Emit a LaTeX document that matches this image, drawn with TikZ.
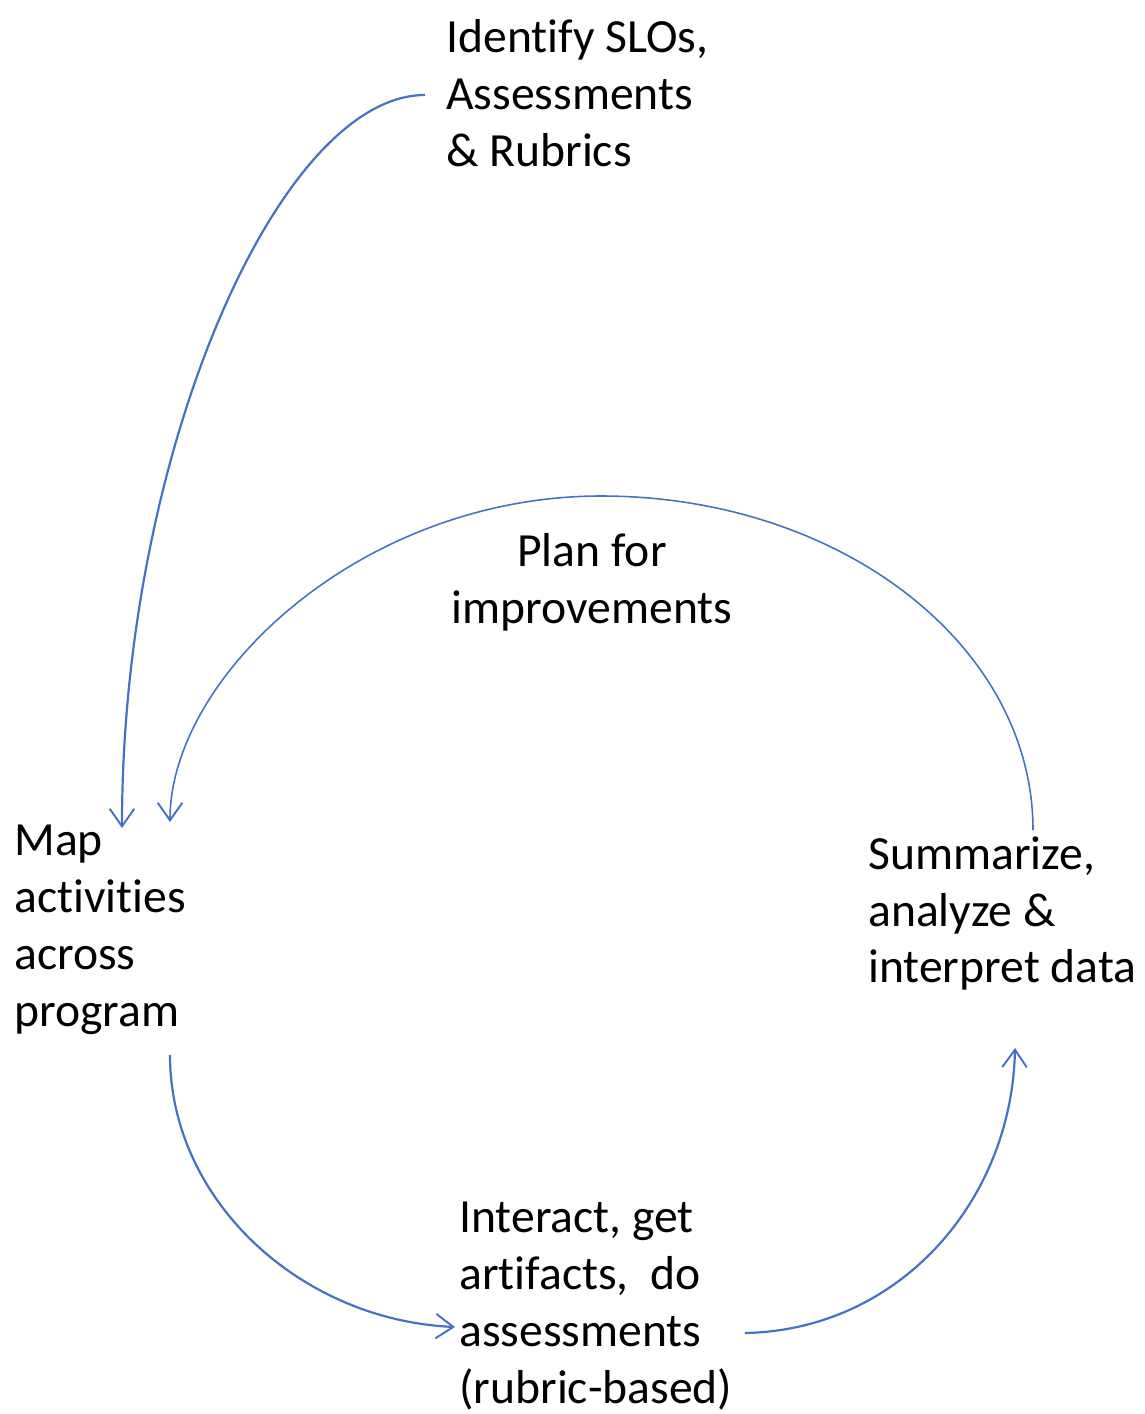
\documentclass[tikz,border=0pt]{standalone}
\usepackage{fontspec}
\setmainfont{Carlito}[RawFeature={-liga;-clig;-calt}]
\usetikzlibrary{arrows.meta}

\definecolor{linkblue}{RGB}{68,114,196}

\tikzset{
    steptext/.style={inner sep=0pt, font=\fontsize{27.1}{32.4}\selectfont},
    link/.style={draw=linkblue, line width=1.25pt, -{Straight Barb[length=10pt, width=14pt, line width=1.1pt]}},
}

\begin{document}
\begin{tikzpicture}[x=0.02cm, y=-0.02cm]
        \useasboundingbox (0, 0) rectangle (1144, 1414);

        \node (slos) at (446, 19) [steptext, anchor=north west, align=left] {Identify SLOs,\\Assessments\\\& Rubrics};
        \node (plan) at (592, 533) [steptext, anchor=north, align=center] {Plan for\\improvements};
        \node (map) at (14, 825) [steptext, anchor=north west, align=left] {Map\\activities\\across\\program};
        \node (summ) at (868, 836) [steptext, anchor=north west, align=left] {Summarize,\\analyze \&\\interpret data};
        \node (interact) at (459, 1202) [steptext, anchor=north west, align=left] {Interact, get\\artifacts,~ do\\assessments\\(rubric-based)};

        \coordinate (s1) at (425, 95);
        \coordinate (e1) at (122, 828);
        \coordinate (s2) at (1033, 830);
        \coordinate (top2) at (601, 496);
        \coordinate (e2) at (170, 822);
        \coordinate (s3) at (170, 1055);
        \coordinate (e3) at (455, 1327);
        \coordinate (s4) at (745, 1333);
        \coordinate (e4) at (1015, 1048);

        \draw [link] (s1) .. controls (280, 95) and (122, 450) .. (e1);
        \draw [link, line width=0.9pt] (s2) .. controls (1033, 645) and (840, 496) .. (top2)
            .. controls (362, 496) and (170, 676) .. (e2);
        \draw [link] (s3) .. controls (170, 1200) and (300, 1320) .. (e3);
        \draw [link] (s4) .. controls (900, 1330) and (1012, 1200) .. (e4);
    \end{tikzpicture}
\end{document}
